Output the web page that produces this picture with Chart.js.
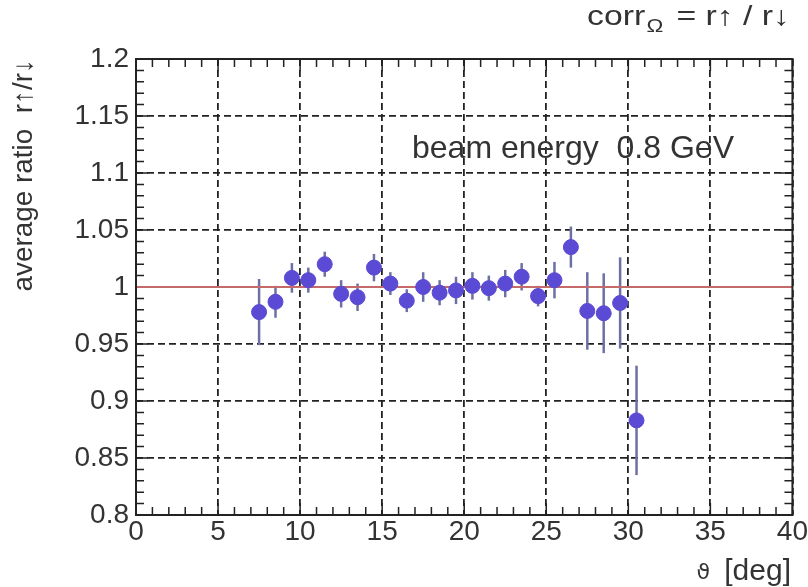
<!DOCTYPE html>
<html>
<head>
<meta charset="utf-8">
<script src="https://cdn.jsdelivr.net/npm/chart.js@4.4.1/dist/chart.umd.min.js"></script>
<style>
  html, body { margin: 0; padding: 0; background: #fff; }
  #wrap { width: 808px; height: 587px; }
</style>
</head>
<body>
<div id="wrap"><canvas id="ratioChart" width="808" height="587"></canvas></div>
<script>
// scattering angle bins (deg)
const thetaDeg = [7.5, 8.5, 9.5, 10.5, 11.5, 12.5, 13.5, 14.5, 15.5, 16.5, 17.5, 18.5,
                  19.5, 20.5, 21.5, 22.5, 23.5, 24.5, 25.5, 26.5, 27.5, 28.5, 29.5, 30.5];
// average ratio r-up / r-down
const ratio = [0.978, 0.987, 1.008, 1.006, 1.020, 0.994, 0.991, 1.017, 1.003, 0.988, 1.000, 0.995,
               0.997, 1.001, 0.999, 1.003, 1.009, 0.992, 1.006, 1.035, 0.979, 0.977, 0.986, 0.883];
const ratioErr = [0.029, 0.014, 0.013, 0.011, 0.011, 0.012, 0.012, 0.012, 0.010, 0.010, 0.013, 0.011,
                  0.012, 0.012, 0.011, 0.012, 0.012, 0.009, 0.016, 0.018, 0.034, 0.035, 0.040, 0.048];
const refLevel = 1.0;
const xRange = [0, 40];
const yRange = [0.8, 1.2];
const xStep = 5, xMinorStep = 1;
const yStep = 0.05, yMinorStep = 0.01;

const FONT = "'Liberation Sans Narrow', 'Liberation Sans', Arial, sans-serif";
const WIDE = "'Liberation Sans', Arial, sans-serif";
Chart.defaults.font.family = FONT;
Chart.defaults.color = '#333';

// pick a font size so that text spans the given width
function fitFont(ctx, text, width) {
  ctx.font = '20px ' + FONT;
  const size = 20 * width / ctx.measureText(text).width;
  ctx.font = size.toFixed(1) + 'px ' + FONT;
  return size;
}

// error bars, frame, minor ticks and text labels
const decorations = {
  id: 'decorations',
  beforeDatasetsDraw(chart) {
    const { ctx, chartArea: a, scales: { x, y } } = chart;
    ctx.save();
    ctx.strokeStyle = '#222';
    ctx.lineWidth = 1.5;
    ctx.beginPath();
    for (let v = xRange[0]; v <= xRange[1] + 1e-9; v += xMinorStep) {
      const px = x.getPixelForValue(v);
      const len = Math.abs(v % xStep) < 1e-9 ? 12 : 8;
      ctx.moveTo(px, a.bottom); ctx.lineTo(px, a.bottom - len);
      ctx.moveTo(px, a.top); ctx.lineTo(px, a.top + len);
    }
    for (let k = 0; k <= Math.round((yRange[1] - yRange[0]) / yMinorStep); k++) {
      const py = y.getPixelForValue(yRange[0] + k * yMinorStep);
      const len = k % 5 === 0 ? 12 : 8;
      ctx.moveTo(a.left, py); ctx.lineTo(a.left + len, py);
      ctx.moveTo(a.right, py); ctx.lineTo(a.right - len, py);
    }
    ctx.stroke();

    ctx.strokeStyle = '#6d70a2';
    ctx.lineWidth = 2.5;
    thetaDeg.forEach((t, i) => {
      const px = x.getPixelForValue(t);
      ctx.beginPath();
      ctx.moveTo(px, y.getPixelForValue(ratio[i] - ratioErr[i]));
      ctx.lineTo(px, y.getPixelForValue(ratio[i] + ratioErr[i]));
      ctx.stroke();
    });
    ctx.restore();
  },
  afterDraw(chart) {
    const { ctx, chartArea: a } = chart;
    ctx.save();
    ctx.strokeStyle = '#222';
    ctx.lineWidth = 2;
    ctx.strokeRect(a.left, a.top, a.right - a.left, a.bottom - a.top);

    ctx.fillStyle = '#333';
    ctx.textBaseline = 'alphabetic';
    // in-plot label
    ctx.textAlign = 'left';
    fitFont(ctx, 'beam energy  0.8 GeV', 322);
    ctx.fillText('beam energy  0.8 GeV', 412, 158);

    // x title
    ctx.font = '30px ' + FONT;
    ctx.textAlign = 'right';
    ctx.fillText('[deg]', 791, 580);
    ctx.font = '22px DejaVu Sans, sans-serif';
    ctx.fillText('\u03D1', 710, 579);

    // y title
    ctx.save();
    ctx.translate(32, a.top);
    ctx.rotate(-Math.PI / 2);
    ctx.textAlign = 'right';
    fitFont(ctx, 'average ratio  r\u2191/r\u2193', 233);
    ctx.fillText('average ratio  r\u2191/r\u2193', 0, 0);
    ctx.restore();

    // top right title, stretched to span 587..790
    ctx.textAlign = 'left';
    const mainFont = '27px ' + WIDE, subFont = '18px ' + WIDE;
    ctx.font = mainFont;
    const w1 = ctx.measureText('corr').width;
    const w3 = ctx.measureText(' = r\u2191 / r\u2193').width;
    ctx.font = subFont;
    const w2 = ctx.measureText('\u03A9').width + 4;
    const sx = 203 / (w1 + w2 + w3);
    ctx.save();
    ctx.translate(587, 0);
    ctx.scale(sx, 1);
    ctx.font = mainFont;
    ctx.fillText('corr', 0, 25);
    ctx.font = subFont;
    ctx.fillText('\u03A9', w1 + 1, 32);
    ctx.font = mainFont;
    ctx.fillText(' = r\u2191 / r\u2193', w1 + w2, 25);
    ctx.restore();
    ctx.restore();
  }
};

const ctx = document.getElementById('ratioChart').getContext('2d');
new Chart(ctx, {
  type: 'scatter',
  data: {
    datasets: [
      {
        label: 'ratio',
        data: thetaDeg.map((t, i) => ({ x: t, y: ratio[i] })),
        backgroundColor: '#5a4ad4',
        borderColor: '#5a4ad4',
        pointRadius: 7.5,
        pointHoverRadius: 7.5,
        order: 1
      },
      {
        type: 'line',
        label: 'reference',
        data: xRange.map(v => ({ x: v, y: refLevel })),
        borderColor: '#c46a6a',
        borderWidth: 2,
        pointRadius: 0,
        order: 2
      }
    ]
  },
  options: {
    responsive: false,
    animation: false,
    events: [],
    layout: { padding: { top: 59, right: 15, left: 0, bottom: 0 } },
    plugins: { legend: { display: false }, tooltip: { enabled: false } },
    scales: {
      x: {
        type: 'linear', min: xRange[0], max: xRange[1],
        afterFit(scale) { scale.height = 72; },
        ticks: { stepSize: xStep, padding: 0, font: { size: 28 }, color: '#333' },
        grid: { color: '#222', lineWidth: 1.8, drawTicks: false },
        border: { display: false, dash: [7, 4] }
      },
      y: {
        type: 'linear', min: yRange[0], max: yRange[1],
        afterFit(scale) { scale.width = 136; },
        ticks: {
          stepSize: yStep, padding: 7, font: { size: 28 }, color: '#333',
          callback: v => String(parseFloat(v.toFixed(2)))
        },
        grid: { color: '#222', lineWidth: 1.8, drawTicks: false },
        border: { display: false, dash: [7, 4] }
      }
    }
  },
  plugins: [decorations]
});
</script>
</body>
</html>
